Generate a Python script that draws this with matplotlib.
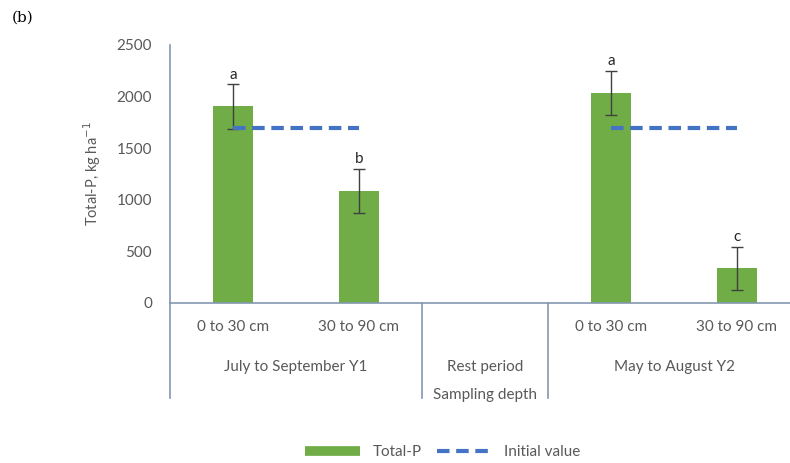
import matplotlib.pyplot as plt
import matplotlib.transforms as mtransforms
from matplotlib.lines import Line2D
import numpy as np

# data
depths = ["0 to 30 cm", "30 to 90 cm", "", "0 to 30 cm", "30 to 90 cm"]
periods = ["July to September Y1", "Rest period", "May to August Y2"]
period_span = [(0, 1), (2, 2), (3, 4)]
total_p = [1905, 1085, np.nan, 2035, 335]
total_p_err = [215, 215, 0, 213, 208]
letters = ["a", "b", "", "a", "c"]
initial_value = [1700, 1700, np.nan, 1700, 1700]

green = "#70AD47"
blue = "#4472C4"
grey = "#595959"
axis_col = "#8497B0"

plt.rcParams['font.family'] = ['Lato', 'DejaVu Sans']

fig = plt.figure(figsize=(7.9, 4.63), dpi=100)
ax = fig.add_axes([170 / 790, 1 - 303 / 463, 1 - 170 / 790, (303 - 45) / 463])

x = np.arange(len(depths))
ax.bar(x, total_p, width=0.31, color=green, zorder=2)
ax.errorbar(x, total_p, yerr=total_p_err, fmt="none", ecolor="#404040",
            elinewidth=1, capsize=4, capthick=1, zorder=3)
ax.plot(x, initial_value, color=blue, linestyle=(0, (3, 1.6)), linewidth=3, zorder=4)

for xi, v, e, l in zip(x, total_p, total_p_err, letters):
    if l:
        ax.text(xi, v + e + 25, l, ha="center", va="bottom", fontsize=11, color="#262626")

ax.set_xlim(-0.5, (790 - 170) / 126 - 0.5)
ax.set_ylim(0, 2500)
ax.set_yticks([0, 500, 1000, 1500, 2000, 2500])
ax.tick_params(axis="y", length=0, pad=13, labelsize=11, labelcolor=grey)
ax.set_xticks([])
for s in ["top", "right"]:
    ax.spines[s].set_visible(False)
ax.spines["left"].set_color(axis_col)
ax.spines["bottom"].set_color(axis_col)
ax.spines["left"].set_linewidth(1.2)
ax.spines["bottom"].set_linewidth(1.2)
ax.set_ylabel("Total-P, kg ha$^{-1}$", fontsize=10.5, color=grey, labelpad=10)

trans = mtransforms.blended_transform_factory(ax.transData, ax.transAxes)
for xi, d in zip(x, depths):
    ax.text(xi, -0.093, d, transform=trans, ha="center", va="center", fontsize=11, color=grey)
for name, (a, b) in zip(periods, period_span):
    ax.text((a + b) / 2, -0.248, name, transform=trans, ha="center", va="center",
            fontsize=11, color=grey)
for sep in [-0.5, 1.5, 2.5]:
    ax.plot([sep, sep], [0, -0.368], transform=trans, color=axis_col, lw=1.2, clip_on=False)

fig.text(485 / 790, 1 - 395 / 463, "Sampling depth", ha="center",
         va="center", fontsize=11, color=grey)
fig.text(12 / 790, 1 - 18 / 463, "(b)", fontsize=11, family="DejaVu Serif", va="center")

handles = [Line2D([], [], color=green, lw=7, solid_capstyle="butt"),
           Line2D([], [], color=blue, lw=3, linestyle=(0, (3, 1.6)))]
fig.legend(handles, ["Total-P", "Initial value"], loc="center",
           bbox_to_anchor=(443 / 790, 1 - 452 / 463), ncol=2, frameon=False,
           fontsize=11, labelcolor=grey, handlelength=3.6, columnspacing=1.0)

fig.savefig("out.png", dpi=100)
